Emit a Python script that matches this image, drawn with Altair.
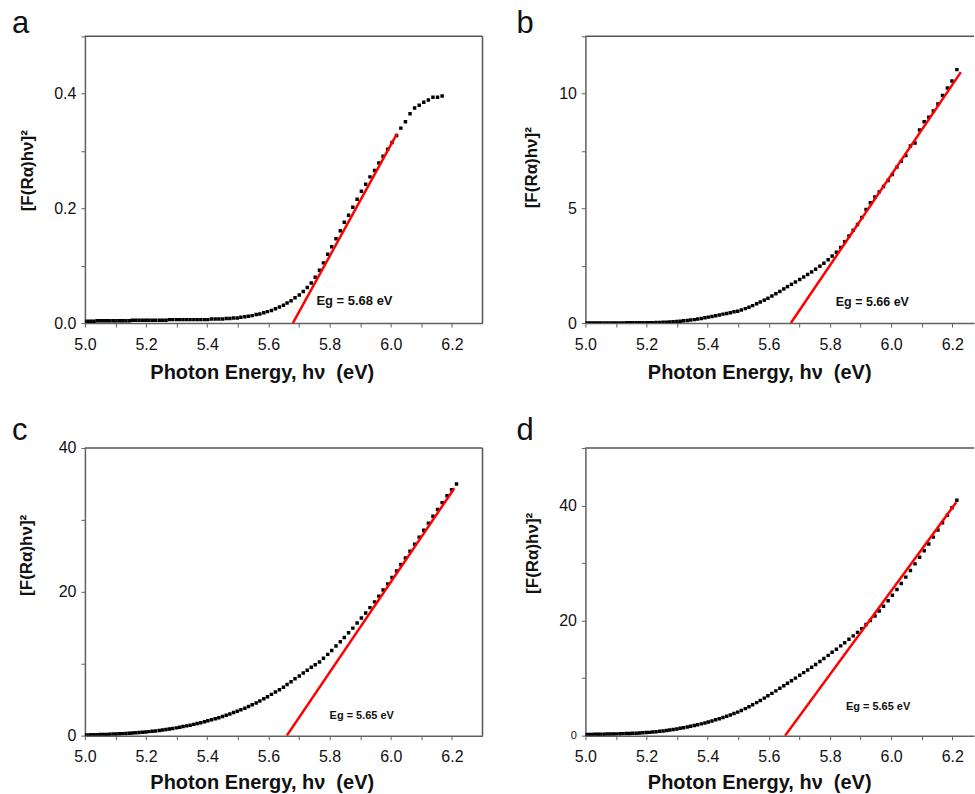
import altair as alt
import pandas as pd

FONT = "Liberation Sans"

# Photon energy (eV) of the measured points
ENERGY = [4.999, 5.010, 5.020, 5.030, 5.040, 5.050, 5.061, 5.071, 5.081, 5.092,
          5.102, 5.113, 5.123, 5.134, 5.145, 5.155, 5.166, 5.177, 5.188, 5.199,
          5.209, 5.220, 5.231, 5.243, 5.254, 5.265, 5.276, 5.287, 5.299, 5.310,
          5.321, 5.333, 5.344, 5.356, 5.367, 5.379, 5.391, 5.402, 5.414, 5.426,
          5.438, 5.450, 5.462, 5.474, 5.486, 5.498, 5.510, 5.523, 5.535, 5.547,
          5.560, 5.572, 5.585, 5.597, 5.610, 5.623, 5.636, 5.649, 5.661, 5.674,
          5.687, 5.701, 5.714, 5.727, 5.740, 5.753, 5.767, 5.780, 5.794, 5.807,
          5.821, 5.835, 5.848, 5.862, 5.876, 5.890, 5.904, 5.918, 5.932, 5.947,
          5.961, 5.975, 5.990, 6.004, 6.019, 6.033, 6.048, 6.063, 6.078, 6.093,
          6.108, 6.123, 6.138, 6.153, 6.168, 6.184, 6.199, 6.215]

A_VALUES = [0.003, 0.003, 0.003, 0.003, 0.004, 0.004, 0.004, 0.004, 0.004, 0.004,
            0.004, 0.004, 0.004, 0.004, 0.004, 0.005, 0.005, 0.005, 0.005, 0.005,
            0.005, 0.005, 0.005, 0.005, 0.005, 0.005, 0.006, 0.006, 0.006, 0.006,
            0.006, 0.006, 0.006, 0.006, 0.006, 0.006, 0.006, 0.006, 0.007, 0.007,
            0.007, 0.007, 0.008, 0.008, 0.009, 0.009, 0.010, 0.011, 0.012, 0.013,
            0.015, 0.016, 0.018, 0.020, 0.022, 0.025, 0.028, 0.031, 0.035, 0.039,
            0.044, 0.049, 0.055, 0.062, 0.070, 0.080, 0.092, 0.105, 0.120, 0.133,
            0.147, 0.161, 0.176, 0.188, 0.202, 0.216, 0.230, 0.242, 0.255, 0.266,
            0.279, 0.291, 0.303, 0.315, 0.327, 0.340, 0.351, 0.365, 0.375, 0.380,
            0.385, 0.389, 0.394, 0.394, 0.396]

B_VALUES = [0.00, 0.00, 0.00, 0.00, 0.00, 0.00, 0.00, 0.00, 0.00, 0.00,
            0.00, 0.00, 0.00, 0.01, 0.01, 0.01, 0.01, 0.01, 0.02, 0.02,
            0.02, 0.02, 0.03, 0.03, 0.04, 0.04, 0.05, 0.06, 0.07, 0.08,
            0.10, 0.11, 0.13, 0.15, 0.18, 0.20, 0.23, 0.26, 0.29, 0.32,
            0.35, 0.39, 0.42, 0.45, 0.49, 0.52, 0.57, 0.63, 0.69, 0.76,
            0.84, 0.92, 1.00, 1.08, 1.18, 1.28, 1.38, 1.49, 1.59, 1.69,
            1.79, 1.90, 2.01, 2.12, 2.23, 2.35, 2.48, 2.61, 2.76, 2.92,
            3.09, 3.30, 3.55, 3.80, 4.05, 4.30, 4.60, 4.95, 5.25, 5.50,
            5.72, 5.95, 6.22, 6.48, 6.80, 7.05, 7.30, 7.72, 7.85, 8.42,
            8.78, 8.98, 9.25, 9.55, 9.92, 10.25, 10.55, 11.05]

C_VALUES = [0.10, 0.11, 0.12, 0.13, 0.14, 0.15, 0.16, 0.18, 0.20, 0.22,
            0.24, 0.26, 0.28, 0.31, 0.34, 0.37, 0.40, 0.44, 0.48, 0.52,
            0.56, 0.61, 0.66, 0.72, 0.78, 0.85, 0.92, 1.00, 1.08, 1.17,
            1.26, 1.36, 1.46, 1.57, 1.68, 1.80, 1.93, 2.06, 2.20, 2.35,
            2.50, 2.67, 2.84, 3.02, 3.21, 3.40, 3.60, 3.82, 4.05, 4.29,
            4.55, 4.82, 5.12, 5.42, 5.74, 6.06, 6.38, 6.72, 7.10, 7.50,
            7.90, 8.30, 8.70, 9.10, 9.50, 9.85, 10.25, 10.75, 11.30, 11.85,
            12.45, 13.05, 13.65, 14.30, 14.95, 15.65, 16.35, 17.05, 17.80, 18.60,
            19.40, 20.25, 21.10, 22.00, 22.90, 23.80, 24.70, 25.65, 26.60, 27.60,
            28.55, 29.55, 30.50, 31.45, 32.40, 33.35, 34.20, 35.00]

D_VALUES = [0.20, 0.21, 0.22, 0.23, 0.24, 0.25, 0.26, 0.27, 0.28, 0.30,
            0.31, 0.33, 0.35, 0.37, 0.39, 0.41, 0.43, 0.46, 0.49, 0.53,
            0.57, 0.62, 0.68, 0.75, 0.82, 0.90, 0.98, 1.07, 1.17, 1.27,
            1.38, 1.50, 1.62, 1.76, 1.90, 2.05, 2.20, 2.38, 2.56, 2.75,
            2.95, 3.15, 3.37, 3.60, 3.84, 4.09, 4.38, 4.70, 5.03, 5.37,
            5.74, 6.12, 6.52, 6.92, 7.35, 7.78, 8.22, 8.66, 9.10, 9.55,
            10.00, 10.48, 10.95, 11.42, 11.90, 12.38, 12.90, 13.42, 13.95, 14.48,
            15.02, 15.60, 16.16, 16.74, 17.34, 17.95, 18.60, 19.30, 20.00, 20.80,
            21.65, 22.50, 23.45, 24.40, 25.40, 26.45, 27.55, 28.70, 29.85, 31.00,
            32.15, 33.30, 34.50, 35.75, 37.00, 38.30, 39.60, 40.90]

# linear fits (Tauc extrapolation): end points
A_FIT_X, A_FIT_Y = [5.68, 6.02], [0.0, 0.33]
B_FIT_X, B_FIT_Y = [5.672, 6.228], [0.0, 10.94]
C_FIT_X, C_FIT_Y = [5.66, 6.208], [0.0, 34.4]
D_FIT_X, D_FIT_Y = [5.653, 6.213], [0.0, 40.56]

EG_TEXT = ["Eg = 5.68 eV", "Eg = 5.66 eV", "Eg = 5.65 eV", "Eg = 5.65 eV"]
EG_POS = [(5.757, 0.038), (5.819, 0.94), (5.80, 2.7), (5.852, 4.96)]
LETTERS = ["a", "b", "c", "d"]

X_TICKS = [5.0, 5.1, 5.2, 5.3, 5.4, 5.5, 5.6, 5.7, 5.8, 5.9, 6.0, 6.1, 6.2]
A_Y_TICKS = [0.0, 0.1, 0.2, 0.3, 0.4, 0.5]
B_Y_TICKS = [0, 2.5, 5, 7.5, 10, 12.5]
C_Y_TICKS = [0, 10, 20, 30, 40]
D_Y_TICKS = [0, 10, 20, 30, 40, 50]

X_TITLE = "Photon Energy, h\u03bd\u00a0 (eV)"
Y_TITLE = "[F(R\u03b1)h\u03bd]\u00b2"

AXIS_GRAY = "#606060"


def panel(values, fit_x, fit_y, eg_text, eg_pos, letter, letter_pos,
          xdom, ydom, yticks, ylabel_expr, w, h, xtitle_x, xtitle_y,
          ytitle_x, ytitle_y, eg_size, zero_small=False, right_border=True,
          anchor=False):
    xs = alt.Scale(domain=xdom, nice=False, zero=False)
    ys = alt.Scale(domain=ydom, nice=False, zero=False)
    x_axis = alt.Axis(
        values=X_TICKS,
        labelExpr="round(datum.value*10) % 2 == 0 ? format(datum.value, '.1f') : ''",
        title=X_TITLE, titleFont=FONT, titleFontSize=20, titleFontWeight="bold",
        titleColor="#111", titleX=xtitle_x, titleY=xtitle_y, titleAlign="center",
        titleBaseline="alphabetic", labelFont=FONT, labelFontSize=16,
        labelColor="#111", labelPadding=9, tickSize=4, tickColor=AXIS_GRAY,
        domainColor=AXIS_GRAY, domainWidth=1.5, grid=False, labelFlush=False,
        labelOverlap=False)
    y_label_size = {"condition": {"test": "datum.value == 0", "value": 11},
                    "value": 16} if zero_small else 16
    y_axis = alt.Axis(
        values=yticks, labelExpr=ylabel_expr,
        title=Y_TITLE, titleFont=FONT, titleFontSize=17, titleFontWeight="bold",
        titleColor="#111", titleAngle=270, titleX=ytitle_x, titleY=ytitle_y,
        titleAlign="center", titleBaseline="middle", labelFont=FONT,
        labelFontSize=y_label_size, labelColor="#111", labelPadding=5,
        tickSize=4, tickColor=AXIS_GRAY, domainColor=AXIS_GRAY, domainWidth=1.5,
        grid=False, labelFlush=False, labelOverlap=False)

    enc_x = alt.X("E:Q", scale=xs, axis=x_axis)
    enc_y = alt.Y("V:Q", scale=ys, axis=y_axis)

    pts = pd.DataFrame({"E": ENERGY[:len(values)], "V": values})
    fit = pd.DataFrame({"E": fit_x, "V": fit_y})
    lab = pd.DataFrame({"E": [eg_pos[0]], "V": [eg_pos[1]], "t": [eg_text]})
    one = pd.DataFrame({"t": [letter]})

    points = alt.Chart(pts).mark_square(size=12, color="black", opacity=1,
                                        clip=True).encode(x=enc_x, y=enc_y)
    line = alt.Chart(fit).mark_line(color="#ff0000", strokeWidth=2.5,
                                    clip=True).encode(x=enc_x, y=enc_y)
    eg = alt.Chart(lab).mark_text(align="left", baseline="middle", font=FONT,
                                  fontSize=eg_size, fontWeight="bold",
                                  color="#111").encode(x=enc_x, y=enc_y, text="t:N")
    let = alt.Chart(one).mark_text(align="left", baseline="alphabetic", font=FONT,
                                   fontSize=31, color="#111").encode(
        x=alt.value(letter_pos[0]), y=alt.value(letter_pos[1]), text="t:N")
    top = alt.Chart(one).mark_rule(color="#555", strokeWidth=1.5).encode(
        x=alt.value(0), x2=alt.value(w), y=alt.value(0))
    layers = [points, line, eg, let, top]
    if right_border:
        layers.append(alt.Chart(one).mark_rule(color="#555", strokeWidth=1.5).encode(
            x=alt.value(w), y=alt.value(0), y2=alt.value(h)))
    if anchor:
        layers.append(alt.Chart(one).mark_rect(opacity=0).encode(
            x=alt.value(-85), x2=alt.value(-84), y=alt.value(-36), y2=alt.value(-35)))
    return alt.layer(*layers).properties(width=w, height=h)


pa = panel(A_VALUES, A_FIT_X, A_FIT_Y, EG_TEXT[0], EG_POS[0], LETTERS[0], (-73, -3),
           [5.0, 6.3], [0, 0.5], A_Y_TICKS,
           "round(datum.value*10) % 2 == 0 ? format(datum.value, '.1f') : ''",
           398, 287, 177, 55, -57, 134, 13, anchor=True)
pb = panel(B_VALUES, B_FIT_X, B_FIT_Y, EG_TEXT[1], EG_POS[1], LETTERS[1], (-69, -3),
           [5.0, 6.271], [0, 12.5], B_Y_TICKS,
           "datum.value % 5 == 0 ? format(datum.value, 'd') : ''",
           389, 287, 174, 55, -54, 131, 12.5, right_border=False)
pc = panel(C_VALUES, C_FIT_X, C_FIT_Y, EG_TEXT[2], EG_POS[2], LETTERS[2], (-73, -8),
           [5.0, 6.3], [0, 40], C_Y_TICKS,
           "datum.value % 20 == 0 ? format(datum.value, 'd') : ''",
           398, 288, 177, 53, -58, 107, 11)
pd_ = panel(D_VALUES, D_FIT_X, D_FIT_Y, EG_TEXT[3], EG_POS[3], LETTERS[3], (-69, -8),
            [5.0, 6.271], [0, 50], D_Y_TICKS,
            "datum.value % 20 == 0 ? format(datum.value, 'd') : ''",
            389, 288, 174, 53, -53, 105, 11, zero_small=True, right_border=False)

chart = alt.concat(pa, pb, pc, pd_, columns=2,
                   spacing={"row": 125, "column": 103}, bounds="flush").properties(
    padding=0, background="white"
).configure_view(stroke=None)

chart.save("out.html", embed_options={"renderer": "svg", "actions": False})
